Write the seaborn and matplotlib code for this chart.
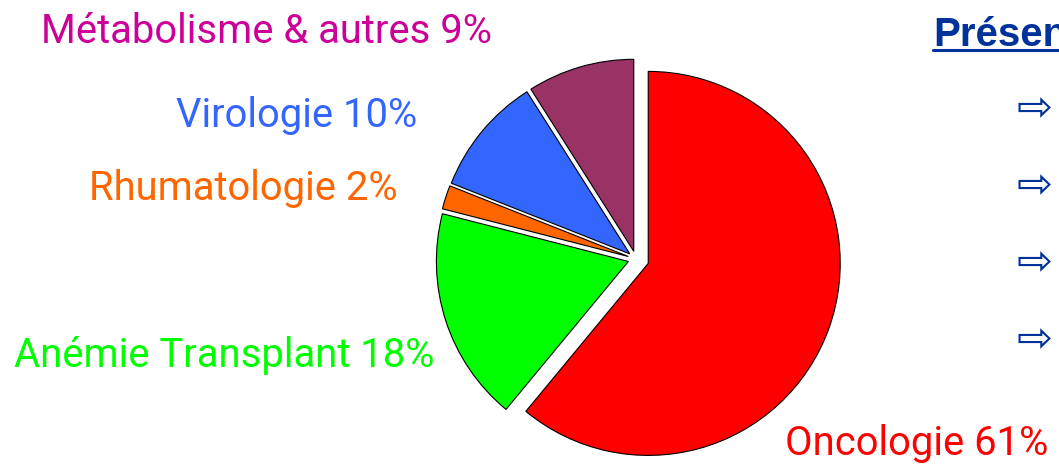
import matplotlib
matplotlib.use("Agg")
import matplotlib.pyplot as plt
import seaborn as sns

# Data ########################################################################
names = ['Oncologie', 'Anémie Transplant', 'Rhumatologie', 'Virologie',
         'Métabolisme & autres']
shares = [61, 18, 2, 10, 9]
wedge_colors = ['#FF0000', '#00FF00', '#FF6600', '#3366FF', '#993366']
label_colors = ['#FF0000', '#00FF00', '#FF6600', '#3366FF', '#CC0099']
explode = [13, 8, 8, 8, 8]

title = 'Présentation'
n_bullets = 4

# Layout (pixels, origin top-left) ############################################
W, H = 1059, 465
label_pos = {
    'Oncologie': (785, 455, 'left'),
    'Anémie Transplant': (435, 367, 'right'),
    'Rhumatologie': (398, 200, 'right'),
    'Virologie': (417, 127, 'right'),
    'Métabolisme & autres': (492, 43, 'right'),
}

sns.set_theme(style='white')
plt.rcParams['font.family'] = ['Roboto', 'DejaVu Sans']

fig = plt.figure(figsize=(W / 100, H / 100), dpi=100)
ax = fig.add_axes([0, 0, 1, 1])

ax.pie(shares, colors=wedge_colors, explode=explode, startangle=90,
       counterclock=False, center=(636, H - 259), radius=192,
       wedgeprops=dict(edgecolor='black', linewidth=0.8))

for name, val, col in zip(names, shares, label_colors):
    x, y, ha = label_pos[name]
    ax.text(x, H - y, f'{name} {val}%', color=col, fontsize=28.8,
            ha=ha, va='baseline')

# Right-hand panel, clipped by the figure edge as in the source slide
ax.text(933, H - 46, title, color='#003399', fontsize=29, fontweight='bold',
        family=['Liberation Sans', 'DejaVu Sans'], ha='left', va='baseline')
ax.plot([933, W + 10], [H - 50, H - 50], color='#003399', lw=2.2,
        clip_on=False)
for i in range(n_bullets):
    ax.text(1017, H - (109 + 77 * i), '\u21e8', color='#003399', fontsize=31,
            family=['DejaVu Sans'], ha='left', va='center')

ax.set_xlim(0, W)
ax.set_ylim(0, H)
ax.set_aspect('equal')
ax.axis('off')

fig.savefig('out.png', dpi=100)
